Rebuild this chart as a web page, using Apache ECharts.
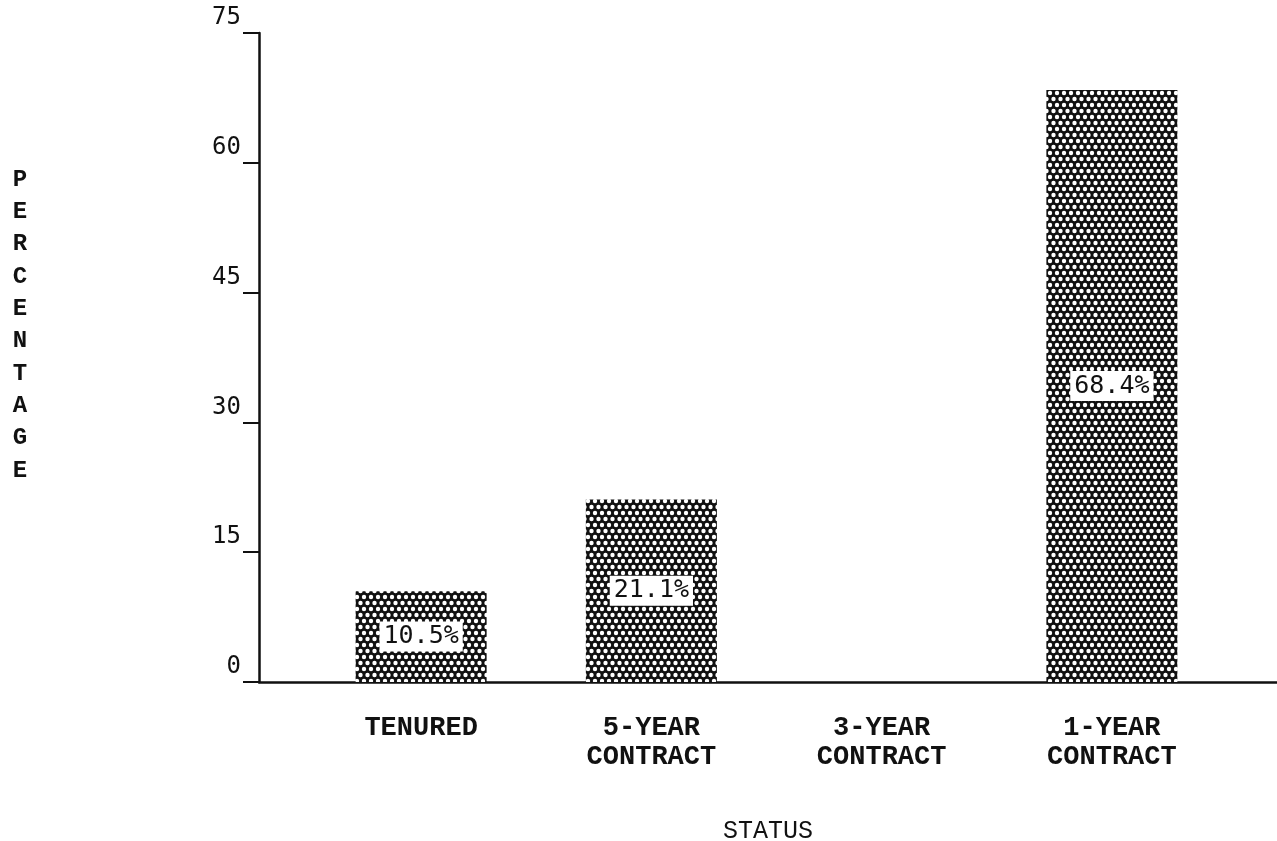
<!DOCTYPE html>
<html>
<head>
<meta charset="utf-8">
<script src="https://cdn.jsdelivr.net/npm/echarts@6/dist/echarts.min.js"></script>
<style>
  html, body { margin: 0; padding: 0; background: #fff; }
  #chart { width: 1277px; height: 841px; }
</style>
</head>
<body>
<div id="chart"></div>
<script>
// Data
const categories = ['TENURED', '5-YEAR\nCONTRACT', '3-YEAR\nCONTRACT', '1-YEAR\nCONTRACT']
const percentages = [10.5, 21.1, 0, 68.4]
const yTicks = { min: 0, max: 75, interval: 15 }
const yTitle = 'PERCENTAGE'
const xTitle = 'STATUS'

// Halftone dot fill, like the typewriter-era shading in the original
const makeDots = () => {
  const c = document.createElement('canvas')
  c.width = 7
  c.height = 12
  const ctx = c.getContext('2d')
  ctx.fillStyle = '#111'
  ctx.fillRect(0, 0, 7, 12)
  ctx.fillStyle = '#fff'
  const dots = [[3.5, 3], [0, 9], [7, 9]]
  dots.forEach(([x, y]) => {
    ctx.beginPath()
    ctx.arc(x, y, 2.2, 0, Math.PI * 2)
    ctx.fill()
  })
  return c
}

const chart = echarts.init(document.getElementById('chart'))

const gridTop = 33
const gridBottom = 841 - 682

chart.setOption({
  backgroundColor: '#fff',
  animation: false,
  grid: [
    // frame grid: carries the long axis lines and the y ticks
    { left: 259, right: 0, top: gridTop, bottom: gridBottom, outerBoundsMode: 'none' },
    // bar grid: narrower, so the bars sit where they do in the scan
    { left: 306, width: 921, top: gridTop, bottom: gridBottom, outerBoundsMode: 'none' }
  ],
  xAxis: [
    {
      type: 'value', gridIndex: 0, min: 0, max: 1,
      axisLine: { show: true, lineStyle: { color: '#111', width: 2.5 } },
      axisTick: { show: false },
      axisLabel: { show: false },
      splitLine: { show: false },
      name: xTitle,
      nameLocation: 'middle',
      nameGap: 137,
      nameTextStyle: {
        fontFamily: 'Liberation Mono',
        fontWeight: 'normal',
        fontSize: 25,
        color: '#111'
      }
    },
    {
      type: 'category', gridIndex: 1, data: categories,
      axisLine: { show: false },
      axisTick: { show: false },
      axisLabel: {
        margin: 32,
        fontFamily: 'Liberation Mono',
        fontWeight: 'bold',
        fontSize: 27,
        lineHeight: 29,
        color: '#111'
      }
    }
  ],
  yAxis: [
    {
      type: 'value', gridIndex: 0, ...yTicks,
      axisLine: { show: true, lineStyle: { color: '#111', width: 2.5 } },
      axisTick: { show: true, length: 16, lineStyle: { color: '#111', width: 2 } },
      axisLabel: {
        margin: 18,
        verticalAlign: 'bottom',
        padding: [0, 0, 3, 0],
        fontFamily: 'DejaVu Sans Mono',
        fontSize: 24,
        color: '#111'
      },
      splitLine: { show: false },
      // stacked letters; two blank lines at the end lift the column a little
      name: yTitle.split('').join('\n') + '\n\n',
      nameLocation: 'middle',
      nameRotate: 0,
      nameGap: 239,
      nameTextStyle: {
        fontFamily: 'Liberation Mono',
        fontWeight: 'bold',
        fontSize: 24,
        lineHeight: 32.3,
        align: 'center',
        color: '#111'
      }
    },
    {
      type: 'value', gridIndex: 1, ...yTicks,
      show: false
    }
  ],
  series: [{
    type: 'bar',
    xAxisIndex: 1,
    yAxisIndex: 1,
    barWidth: 131,
    data: percentages.map(v => ({ value: v, label: { show: v > 0 } })),
    itemStyle: { color: { image: makeDots(), repeat: 'repeat' } },
    label: {
      show: true,
      position: 'inside',
      formatter: (p) => p.value.toFixed(1) + '%',
      fontFamily: 'DejaVu Sans Mono',
      fontSize: 25,
      color: '#111',
      backgroundColor: '#fff',
      padding: [3, 4, 2, 4]
    }
  }]
})
</script>
</body>
</html>
